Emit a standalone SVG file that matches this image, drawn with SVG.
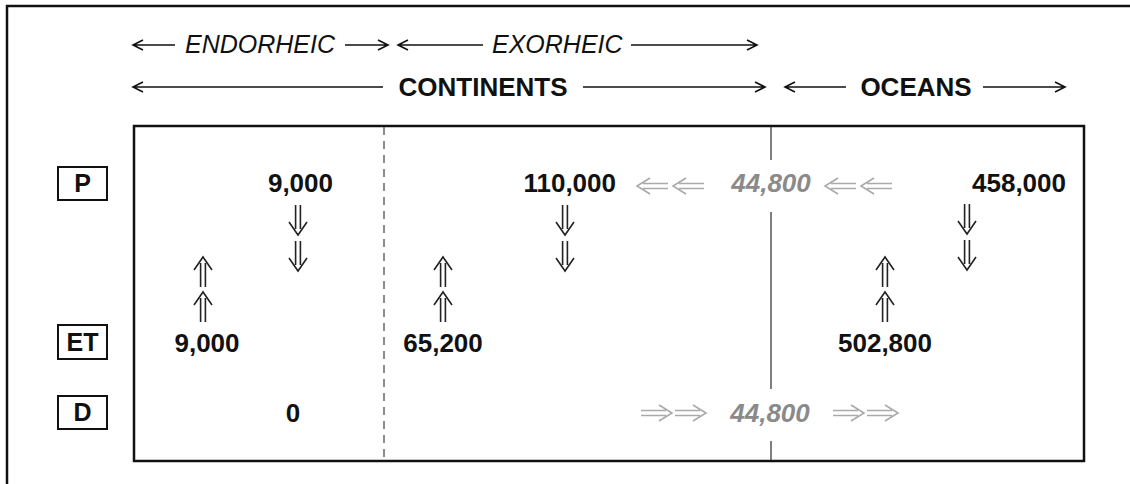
<svg xmlns="http://www.w3.org/2000/svg" width="1130" height="484" viewBox="0 0 1130 484">
<style>
.hdr{font-family:"Liberation Sans",Arial,sans-serif;font-size:25px;font-style:italic;fill:#111}
.hdrb{font-family:"Liberation Sans",Arial,sans-serif;font-size:26px;font-weight:bold;fill:#111}
.num{font-family:"Liberation Sans",Arial,sans-serif;font-size:26px;font-weight:bold;fill:#111}
.gnum{font-family:"Liberation Sans",Arial,sans-serif;font-size:26px;font-weight:bold;font-style:italic;fill:#8a8a8a}
.lbl{font-family:"Liberation Sans",Arial,sans-serif;font-size:25px;font-weight:bold;fill:#111}
.ln{stroke:#111;stroke-width:1.6;fill:none}
.dbl{stroke:#222;stroke-width:1.6;fill:none}
.gdbl{stroke:#aaa;stroke-width:1.6;fill:none}
.box{fill:#fff;stroke:#111;stroke-width:2}
</style>
<defs>
<g id="down"><path d="M-2.4,0V24M2.4,0V24M-9,17L0,30L9,17"/></g>
<g id="up"><path d="M-2.4,6V30M2.4,6V30M-9,13L0,0L9,13"/></g>
<g id="left"><path d="M6,-2.5H31M6,2.5H31M13,-8L0,0L13,8"/></g>
<g id="right"><path d="M-31,-2.5H-6M-31,2.5H-6M-13,-8L0,0L-13,8"/></g>
</defs>
<rect width="1130" height="484" fill="#fff"/>
<path d="M7,484V6H1130" fill="none" stroke="#111" stroke-width="2.5"/>

<g id="header">
<path class="ln" d="M133,45H175M143,40L133,45L143,50"/>
<text class="hdr" x="185" y="53">ENDORHEIC</text>
<path class="ln" d="M345,45H388M378,40L388,45L378,50"/>
<path class="ln" d="M398,45H483M408,40L398,45L408,50"/>
<text class="hdr" x="492" y="53">EXORHEIC</text>
<path class="ln" d="M631,45H757M747,40L757,45L747,50"/>
<path class="ln" d="M133,87H383M143,82L133,87L143,92"/>
<text class="hdrb" x="483" y="96" text-anchor="middle">CONTINENTS</text>
<path class="ln" d="M583,87H765M755,82L765,87L755,92"/>
<path class="ln" d="M785,87H846M795,82L785,87L795,92"/>
<text class="hdrb" x="916" y="96" text-anchor="middle">OCEANS</text>
<path class="ln" d="M983,87H1065M1055,82L1065,87L1055,92"/>
</g>

<g id="labels">
<g id="label-P"><rect class="box" x="58" y="167" width="49" height="33"/><text class="lbl" x="82.5" y="192" text-anchor="middle">P</text></g>
<g id="label-ET"><rect class="box" x="58" y="325" width="49" height="34"/><text class="lbl" x="82.5" y="351" text-anchor="middle">ET</text></g>
<g id="label-D"><rect class="box" x="58" y="396" width="49" height="33"/><text class="lbl" x="82.5" y="421" text-anchor="middle">D</text></g>
</g>

<g id="frame">
<rect x="134" y="126" width="950" height="335" fill="none" stroke="#111" stroke-width="2.5"/>
<line x1="384" y1="127" x2="384" y2="460" stroke="#666" stroke-width="1.5" stroke-dasharray="8,6"/>
<path d="M771,127V160M771,212V389M771,441V460" stroke="#555" stroke-width="1.5" fill="none"/>
</g>

<g id="connectors">
<g class="dbl">
<use href="#down" x="298" y="205"/><use href="#down" x="298" y="241"/>
<use href="#down" x="565" y="205"/><use href="#down" x="565" y="241"/>
<use href="#down" x="967" y="204"/><use href="#down" x="967" y="240"/>
<use href="#up" x="203" y="257"/><use href="#up" x="203" y="292"/>
<use href="#up" x="443" y="257"/><use href="#up" x="443" y="292"/>
<use href="#up" x="885" y="257"/><use href="#up" x="885" y="292"/>
</g>
<g class="gdbl">
<use href="#left" x="637" y="186"/><use href="#left" x="673" y="186"/>
<use href="#left" x="825" y="186"/><use href="#left" x="861" y="186"/>
<use href="#right" x="672" y="413"/><use href="#right" x="706" y="413"/>
<use href="#right" x="864" y="413"/><use href="#right" x="898" y="413"/>
</g>
</g>

<g id="values">
<text id="p-endo" class="num" x="333" y="192" text-anchor="end">9,000</text>
<text id="p-exo" class="num" x="616" y="192" text-anchor="end">110,000</text>
<text id="p-flux" class="gnum" x="771" y="192" text-anchor="middle">44,800</text>
<text id="p-ocean" class="num" x="1066" y="192" text-anchor="end">458,000</text>
<text id="et-endo" class="num" x="207" y="352" text-anchor="middle">9,000</text>
<text id="et-exo" class="num" x="443" y="352" text-anchor="middle">65,200</text>
<text id="et-ocean" class="num" x="885" y="352" text-anchor="middle">502,800</text>
<text id="d-endo" class="num" x="293" y="422" text-anchor="middle">0</text>
<text id="d-flux" class="gnum" x="770" y="422" text-anchor="middle">44,800</text>
</g>
</svg>
